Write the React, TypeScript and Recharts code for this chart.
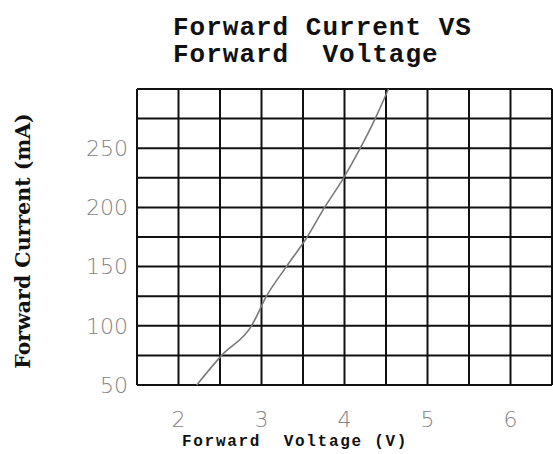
import React from 'react';
import { LineChart, Line, XAxis, YAxis, CartesianGrid } from 'recharts';

const voltage = [2.22, 2.52, 2.88, 3.06, 3.3, 3.55, 3.76, 3.99, 4.19, 4.37, 4.53];
const current = [50, 75, 100, 125, 150, 175, 200, 225, 250, 275, 300];
const xTicks = [1.5, 2, 2.5, 3, 3.5, 4, 4.5, 5, 5.5, 6, 6.5];
const xLabels = [2, 3, 4, 5, 6];
const yTicks = [50, 75, 100, 125, 150, 175, 200, 225, 250, 275, 300];
const yLabels = [50, 100, 150, 200, 250];

const data = voltage.map((v, i) => ({ v, i: current[i] }));

const tickStyle = {
  fill: '#858585',
  fontFamily: '"DejaVu Sans", sans-serif',
  fontWeight: 200,
  fontSize: 22,
};

export default function App() {
  return (
    <div style={{ position: 'absolute', left: 0, top: 0, width: 553, height: 454, background: '#fff' }}>
      <LineChart width={553} height={454} data={data} margin={{ top: 89, right: 1, left: 0, bottom: 0 }}>
        <CartesianGrid stroke="#111" strokeWidth={2} strokeOpacity={1} />
        <XAxis
          type="number"
          dataKey="v"
          domain={[1.5, 6.5]}
          ticks={xTicks}
          interval={0}
          tickFormatter={(t: number) => (xLabels.includes(t) ? String(t) : '')}
          axisLine={false}
          tickLine={false}
          tickSize={0}
          tickMargin={26}
          height={69}
          tick={tickStyle}
        />
        <YAxis
          type="number"
          dataKey="i"
          domain={[50, 300]}
          ticks={yTicks}
          interval={0}
          tickFormatter={(t: number) => (yLabels.includes(t) ? String(t) : '')}
          axisLine={false}
          tickLine={false}
          tickSize={0}
          tickMargin={9}
          width={137}
          tick={tickStyle}
        />
        <Line
          type="monotone"
          dataKey="i"
          stroke="#7a7a7a"
          strokeWidth={1.6}
          dot={false}
          isAnimationActive={false}
        />
      </LineChart>
      <div
        style={{
          position: 'absolute',
          left: 173,
          top: 15,
          fontFamily: '"Liberation Mono", monospace',
          fontWeight: 'bold',
          fontSize: 26,
          lineHeight: '27px',
          letterSpacing: 1,
          whiteSpace: 'pre',
          color: '#111',
        }}
      >
        {'Forward Current VS\nForward  Voltage'}
      </div>
      <div
        style={{
          position: 'absolute',
          left: 182,
          top: 434,
          fontFamily: '"Liberation Mono", monospace',
          fontWeight: 'bold',
          fontSize: 16,
          lineHeight: '16px',
          letterSpacing: 1.7,
          whiteSpace: 'pre',
          color: '#111',
        }}
      >
        {'Forward  Voltage (V)'}
      </div>
      <div
        style={{
          position: 'absolute',
          left: 23,
          top: 241,
          transform: 'translate(-50%, -50%) rotate(-90deg)',
          fontFamily: '"DejaVu Serif", serif',
          fontWeight: 'bold',
          fontSize: 20.5,
          lineHeight: '22px',
          whiteSpace: 'pre',
          color: '#111',
        }}
      >
        {'Forward Current (mA)'}
      </div>
    </div>
  );
}
